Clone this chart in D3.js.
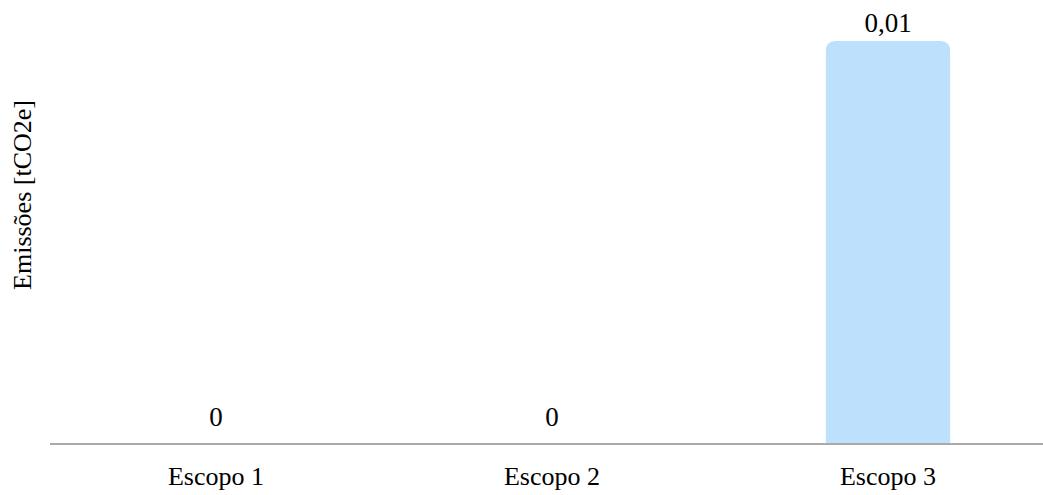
<!DOCTYPE html>
<html><head><meta charset="utf-8">
<script src="https://cdn.jsdelivr.net/npm/d3@7"></script>
<style>body{margin:0;background:#fff}svg{display:block}text{font-family:"Liberation Serif","Times New Roman",serif;fill:#000}</style>
</head><body><svg id="c" width="1043" height="495"></svg>
<script>
const categories = ["Escopo 1", "Escopo 2", "Escopo 3"];
const values = [0, 0, 0.01];
const valueLabels = ["0", "0", "0,01"];
const yTitle = "Emissões [tCO2e]";

const svg = d3.select("#c");
const x = d3.scaleBand().domain(categories).range([48, 1056]).paddingInner(0.63).paddingOuter(0.315);
const y = d3.scaleLinear().domain([0, 0.01]).range([444, 41]);

const bw = x.bandwidth(), r = 10;
svg.selectAll("path.bar").data(values).join("path").attr("class","bar")
  .attr("fill", "#bde0fc")
  .attr("d", (d,i) => {
    const x0 = x(categories[i]), x1 = x0 + bw, y0 = y(0), y1 = y(d);
    if (y0 - y1 < 1) return "";
    return `M${x0},${y0}V${y1+r}Q${x0},${y1} ${x0+r},${y1}H${x1-r}Q${x1},${y1} ${x1},${y1+r}V${y0}Z`;
  });

svg.append("line").attr("x1", 50).attr("x2", 1043).attr("y1", 444).attr("y2", 444)
  .attr("stroke", "#aaaaaa").attr("stroke-width", 2);

svg.selectAll("text.val").data(values).join("text").attr("class","val")
  .attr("x", (d,i) => x(categories[i]) + bw/2)
  .attr("y", d => y(d) - (d > 0 ? 9 : 18))
  .attr("text-anchor", "middle").attr("font-size", 27)
  .text((d,i) => valueLabels[i]);

const xAxis = d3.axisBottom(x).tickSize(0).tickPadding(0);
const gx = svg.append("g").attr("transform", "translate(0,444)").call(xAxis);
gx.select(".domain").remove();
gx.selectAll("text").attr("font-size", 26).attr("dy", null).attr("y", 41)
  .style("font-family", '"Liberation Serif",serif').attr("fill", "#000");

svg.append("text").attr("transform", "translate(22,195) rotate(-90)")
  .attr("text-anchor", "middle").attr("font-size", 26).attr("dy", "0.35em").text(yTitle);
</script></body></html>
